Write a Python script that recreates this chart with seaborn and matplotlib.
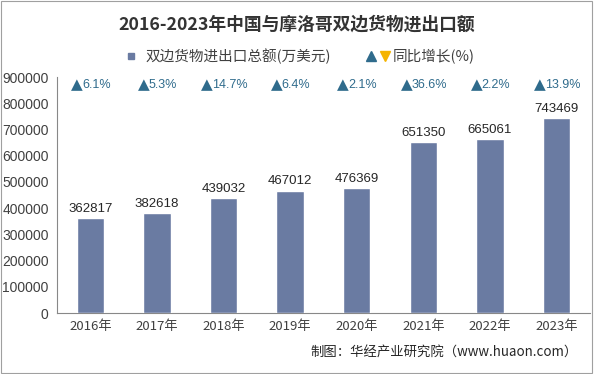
import matplotlib
matplotlib.use('Agg')
import matplotlib.pyplot as plt
import seaborn as sns
import pandas as pd
from matplotlib.lines import Line2D
from matplotlib.legend_handler import HandlerTuple
from matplotlib.transforms import offset_copy

years = ['2016年', '2017年', '2018年', '2019年', '2020年', '2021年', '2022年', '2023年']
totals = [362817, 382618, 439032, 467012, 476369, 651350, 665061, 743469]
growth = [6.1, 5.3, 14.7, 6.4, 2.1, 36.6, 2.2, 13.9]

sns.set_style('white')
plt.rcParams['font.family'] = ['Noto Sans CJK SC', 'DejaVu Sans']

bar_color = '#6A7BA2'
up_color = '#2F6B8C'
text_gray = '#404040'
latin = ['Liberation Sans', 'DejaVu Sans']

df = pd.DataFrame({'year': years, 'total': totals})

fig = plt.figure(figsize=(5.94, 3.74), dpi=100)
ax = fig.add_axes([0.096, 0.163, 0.897, 0.631])

sns.barplot(data=df, x='year', y='total', color=bar_color, width=0.41,
            saturation=1, ax=ax, zorder=3)

for i, v in enumerate(totals):
    ax.text(i, v + 12000, str(v), ha='center', va='bottom', fontsize=9.5,
            color='#262626', family=latin)

# growth labels: triangle + number, centred together
fig.canvas.draw()
renderer = fig.canvas.get_renderer()
for i, g in enumerate(growth):
    num = ax.text(i, 870000, f'{g}%', ha='left', va='center', fontsize=9,
                  color=up_color, family=latin)
    tri = ax.text(i, 872000, '▲', ha='right', va='center', fontsize=11,
                  color=up_color, family=['DejaVu Sans'])
    wn = num.get_window_extent(renderer).width
    wt = tri.get_window_extent(renderer).width
    shift = (wt - wn) / 2 * 72 / fig.dpi
    num.set_transform(offset_copy(ax.transData, fig=fig, x=shift, y=0, units='points'))
    tri.set_transform(offset_copy(ax.transData, fig=fig, x=shift + 0.6, y=0, units='points'))

ax.set_ylim(0, 900000)
ax.set_xlim(-0.5, len(years) - 0.5)
ax.set_yticks(range(0, 900001, 100000))
ax.set_yticklabels([str(t) for t in range(0, 900001, 100000)],
                   family=latin, fontsize=10, color=text_gray)
ax.set_xticks(range(len(years)))
ax.set_xticklabels(years, fontsize=9.5, color=text_gray)
ax.set_xticks([i - 0.5 for i in range(len(years) + 1)], minor=True)
ax.tick_params(axis='x', which='major', length=0, pad=5)
ax.tick_params(axis='x', which='minor', length=4, color='#888888', direction='out')
ax.tick_params(axis='y', length=4, color='#888888', direction='out', pad=2)
ax.set_xlabel('')
ax.set_ylabel('')
for s in ['top', 'right']:
    ax.spines[s].set_visible(False)
for s in ['left', 'bottom']:
    ax.spines[s].set_color('#888888')
    ax.spines[s].set_linewidth(0.8)

fig.text(0.5, 0.935, '2016-2023年中国与摩洛哥双边货物进出口额', ha='center', va='center',
         fontsize=12.8, fontweight='bold', color='#333333')

h1 = Line2D([], [], marker='s', linestyle='none', color=bar_color, markersize=4)
h2a = Line2D([], [], marker='^', linestyle='none', color=up_color, markersize=7)
h2b = Line2D([], [], marker='v', linestyle='none', color='#F5B400', markersize=7)
fig.legend([h1, (h2a, h2b)], ['双边货物进出口总额(万美元)', '同比增长(%)'],
           loc='center', bbox_to_anchor=(0.5, 0.85), ncol=2, frameon=False,
           fontsize=10.5, handlelength=1.6, handletextpad=0.2, columnspacing=2.4,
           handler_map={tuple: HandlerTuple(ndivide=None, pad=0.3)},
           labelcolor=text_gray)

fig.text(0.973, 0.058, '制图：华经产业研究院（www.huaon.com）', ha='right', va='center',
         fontsize=9.6, color='#262626')

border = plt.Rectangle((0.002, 0.003), 0.995, 0.994, transform=fig.transFigure,
                       fill=False, edgecolor='#A0A0A0', linewidth=0.8)
fig.patches.append(border)

fig.savefig('out.png', dpi=100)
